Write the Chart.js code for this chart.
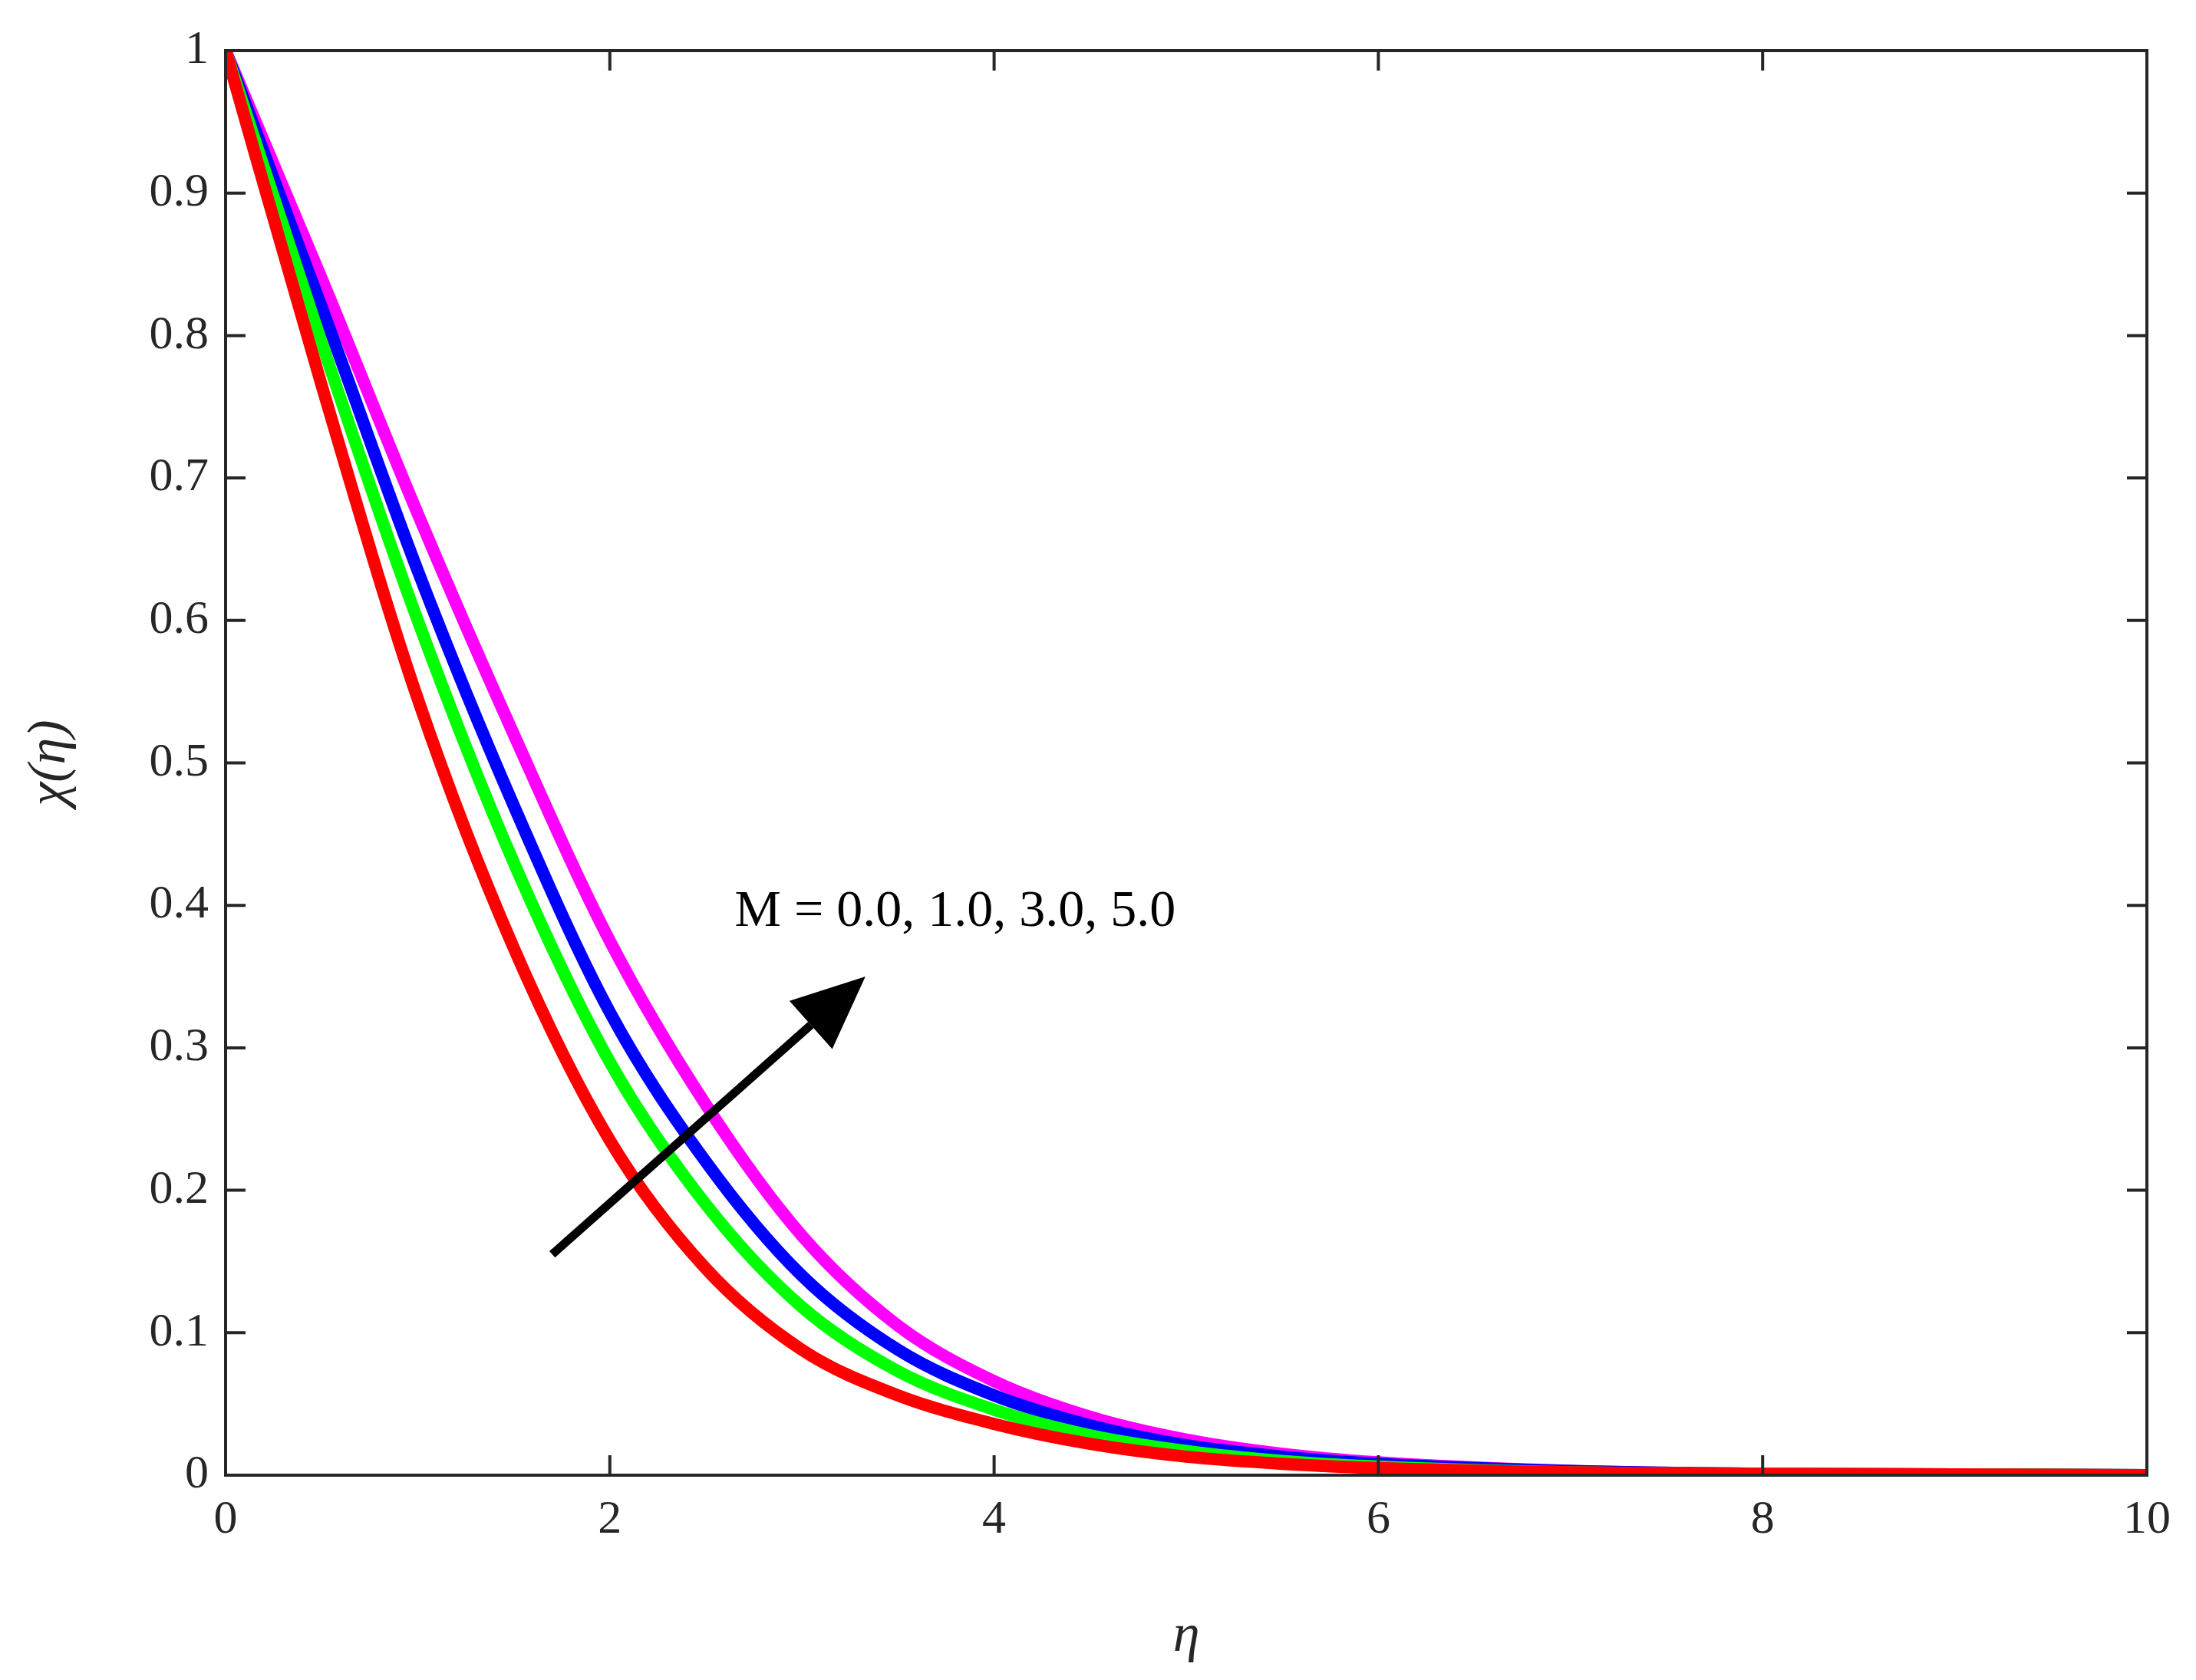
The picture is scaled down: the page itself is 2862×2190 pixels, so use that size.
<!DOCTYPE html>
<html><head><meta charset="utf-8">
<script src="https://cdn.jsdelivr.net/npm/chart.js@4"></script>
<style>body{margin:0;background:#fff}canvas{display:block}</style>
</head><body>
<div style="width:2862px;height:2190px"><canvas id="c"></canvas></div>
<script>
const etas = [0, 0.5, 1, 1.5, 2, 2.5, 3, 3.5, 4, 4.5, 5, 5.5, 6, 7, 8, 9, 10];
const chiM0 = [1, 0.765, 0.545, 0.37, 0.235, 0.145, 0.088, 0.056, 0.036, 0.022, 0.013, 0.008, 0.005, 0.002, 0.001, 0.0005, 0];
const chiM1 = [1, 0.795, 0.60, 0.43, 0.29, 0.19, 0.118, 0.073, 0.046, 0.028, 0.017, 0.010, 0.006, 0.002, 0.001, 0.0005, 0];
const chiM3 = [1, 0.82, 0.635, 0.47, 0.325, 0.22, 0.14, 0.088, 0.056, 0.035, 0.021, 0.013, 0.008, 0.003, 0.001, 0.0005, 0];
const chiM5 = [1, 0.84, 0.675, 0.52, 0.375, 0.26, 0.168, 0.105, 0.066, 0.041, 0.025, 0.015, 0.009, 0.003, 0.001, 0.0005, 0];
const xTicks = [0, 2, 4, 6, 8, 10];
const yTicks = [0, 0.1, 0.2, 0.3, 0.4, 0.5, 0.6, 0.7, 0.8, 0.9, 1];
const arrowFrom = [1.7, 0.155], arrowTo = [3.33, 0.35];
const label = 'M = 0.0, 1.0, 3.0, 5.0', labelAt = [2.65, 0.395];

const FONT = '"Liberation Serif", "Times New Roman", serif';
const mk = (d, c) => ({ data: etas.map((x, i) => ({ x, y: d[i] })), borderColor: c, borderWidth: 16,
  pointRadius: 0, cubicInterpolationMode: 'monotone', fill: false });

// frame, inward ticks, arrow and label
const extras = {
  id: 'extras',
  afterDatasetsDraw(ch) {
    const { ctx, chartArea: a, scales: { x, y } } = ch;
    ctx.save();
    ctx.strokeStyle = '#262626'; ctx.lineWidth = 4;
    ctx.strokeRect(a.left, a.top, a.right - a.left, a.bottom - a.top);
    const L = 26;
    ctx.beginPath();
    xTicks.forEach(v => { const p = x.getPixelForValue(v);
      ctx.moveTo(p, a.bottom); ctx.lineTo(p, a.bottom - L); ctx.moveTo(p, a.top); ctx.lineTo(p, a.top + L); });
    yTicks.forEach(v => { const p = y.getPixelForValue(v);
      ctx.moveTo(a.left, p); ctx.lineTo(a.left + L, p); ctx.moveTo(a.right, p); ctx.lineTo(a.right - L, p); });
    ctx.stroke();
    const x0 = x.getPixelForValue(arrowFrom[0]), y0 = y.getPixelForValue(arrowFrom[1]);
    const x1 = x.getPixelForValue(arrowTo[0]), y1 = y.getPixelForValue(arrowTo[1]);
    const ang = Math.atan2(y1 - y0, x1 - x0), hl = 95, hw = 42;
    const bx = x1 - hl * Math.cos(ang), by = y1 - hl * Math.sin(ang);
    ctx.strokeStyle = '#000'; ctx.lineWidth = 11;
    ctx.beginPath(); ctx.moveTo(x0, y0); ctx.lineTo(bx, by); ctx.stroke();
    ctx.fillStyle = '#000'; ctx.beginPath();
    ctx.moveTo(x1, y1);
    ctx.lineTo(bx + hw * Math.sin(ang), by - hw * Math.cos(ang));
    ctx.lineTo(bx - hw * Math.sin(ang), by + hw * Math.cos(ang));
    ctx.closePath(); ctx.fill();
    ctx.font = '68px ' + FONT; ctx.textBaseline = 'middle';
    ctx.fillText(label, x.getPixelForValue(labelAt[0]), y.getPixelForValue(labelAt[1]));
    ctx.restore();
  }
};

new Chart(document.getElementById('c'), {
  type: 'line',
  data: { datasets: [mk(chiM0, '#ff0000'), mk(chiM1, '#00ff00'), mk(chiM3, '#0000ff'), mk(chiM5, '#ff00ff')] },
  options: {
    responsive: true, maintainAspectRatio: false, animation: false, devicePixelRatio: 1,
    layout: { padding: { top: 66, right: 64, left: 20, bottom: 10 } },
    plugins: { legend: { display: false }, tooltip: { enabled: false } },
    scales: {
      x: { type: 'linear', min: 0, max: 10, grid: { display: false, drawTicks: false }, border: { display: false },
        afterBuildTicks: s => { s.ticks = xTicks.map(v => ({ value: v })); },
        afterFit: s => { s.height = 257; },
        ticks: { color: '#262626', font: { family: FONT, size: 62 }, padding: 22 },
        title: { display: true, text: 'η', color: '#262626', font: { family: FONT, size: 70, style: 'italic' }, padding: { top: 0 } } },
      y: { min: 0, max: 1, grid: { display: false, drawTicks: false }, border: { display: false },
        afterBuildTicks: s => { s.ticks = yTicks.map(v => ({ value: v })); },
        afterFit: s => { s.width = 274; },
        ticks: { color: '#262626', font: { family: FONT, size: 62 }, padding: 22, callback: v => String(v) },
        title: { display: true, text: 'χ(η)', color: '#262626', font: { family: FONT, size: 70, style: 'italic' }, padding: { bottom: 10 } } }
    }
  },
  plugins: [extras]
});
</script>
</body></html>
